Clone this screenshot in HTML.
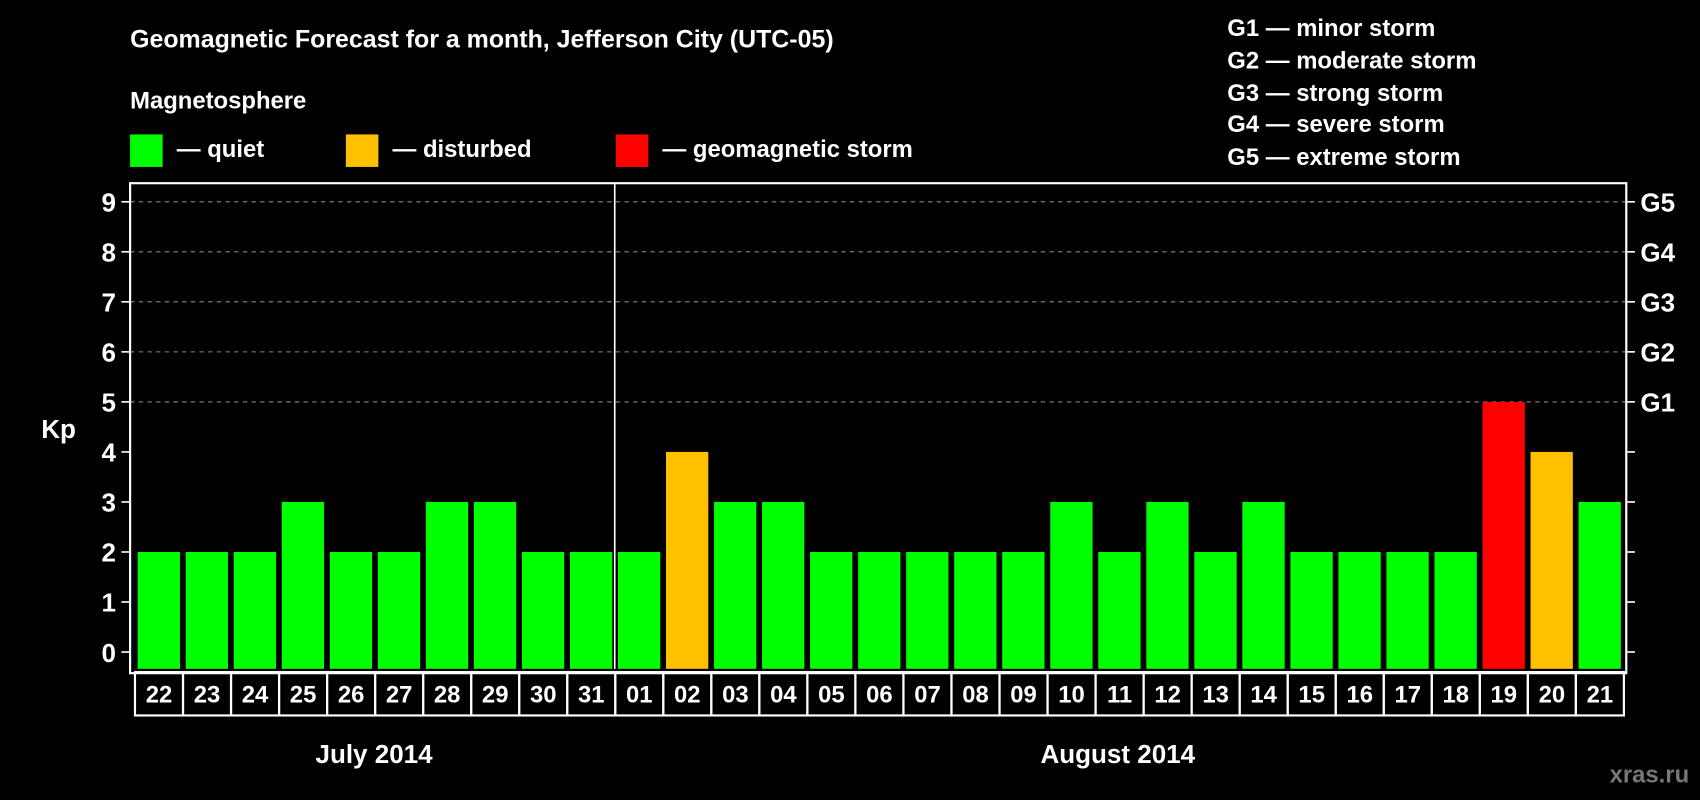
<!DOCTYPE html>
<html><head><meta charset="utf-8"><style>
html,body{margin:0;padding:0;background:#000;width:1700px;height:800px;overflow:hidden}
svg{display:block}
text{font-family:"Liberation Sans",Arial,sans-serif;font-weight:bold;fill:#fff}
</style></head><body>
<svg id="chart" width="1700" height="800" viewBox="0 0 1568 738" preserveAspectRatio="none">
<rect width="1568" height="738" fill="#000"/>
<text x="120" y="44" font-size="23">Geomagnetic Forecast for a month, Jefferson City (UTC-05)</text>
<text x="120" y="100" font-size="22">Magnetosphere</text>
<rect x="120" y="124" width="30" height="30" fill="#00ff00"/>
<text x="163" y="145" font-size="22">— quiet</text>
<rect x="319" y="124" width="30" height="30" fill="#ffc000"/>
<text x="362" y="145" font-size="22">— disturbed</text>
<rect x="568" y="124" width="30" height="30" fill="#ff0000"/>
<text x="611" y="145" font-size="22">— geomagnetic storm</text>
<g font-size="22">
<text x="1132" y="33">G1 — minor storm</text>
<text x="1132" y="63">G2 — moderate storm</text>
<text x="1132" y="93">G3 — strong storm</text>
<text x="1132" y="122">G4 — severe storm</text>
<text x="1132" y="152">G5 — extreme storm</text>
</g>
<text x="38" y="404" font-size="24">Kp</text>
<g id="plot"></g>
<text x="345" y="704" font-size="24" text-anchor="middle">July 2014</text>
<text x="1031" y="704" font-size="24" text-anchor="middle">August 2014</text>
<text x="1558" y="722" font-size="22" text-anchor="end" style="fill:#777">xras.ru</text>
</svg>
<script>
const days = ["22","23","24","25","26","27","28","29","30","31","01","02","03","04","05","06","07","08","09","10","11","12","13","14","15","16","17","18","19","20","21"];
const kpValues = [2,2,2,3,2,2,3,3,2,2,2,4,3,3,2,2,2,2,2,3,2,3,2,3,2,2,2,2,5,4,3];
const kpTicks = [0,1,2,3,4,5,6,7,8,9];
const gLabels = ["G1","G2","G3","G4","G5"];
const NS="http://www.w3.org/2000/svg";
const g=document.getElementById('plot');
const L=120,R=1500,T=169,B=617,X0=124.5,PITCH=44.3,BW=39;
const y=v=>601.5-v*46.15;
const x=i=>X0+i*PITCH;
function mk(t,a){const e=document.createElementNS(NS,t);for(const k in a)e.setAttribute(k,a[k]);g.appendChild(e);return e;}
kpTicks.forEach(v=>{
  if(v>=5){const l=mk('line',{x1:L,x2:R,y1:y(v),y2:y(v),stroke:'#888','stroke-dasharray':'4 4','stroke-width':1});
    
    }
  const t1=mk('line',{x1:L-8,x2:L,y1:y(v),y2:y(v),stroke:'#fff','stroke-width':1.5});
  
  
  const t2=mk('line',{x1:R,x2:R+8,y1:y(v),y2:y(v),stroke:'#fff','stroke-width':1.5});
  
  
  const tx=mk('text',{x:L-13,y:y(v)+9,'font-size':24,'text-anchor':'end'});tx.textContent=v;
  
  
});
gLabels.forEach((s,i)=>{const tx=mk('text',{x:R+13,y:y(5+i)+9,'font-size':24});tx.textContent=s;
  
  });
kpValues.forEach((v,i)=>{
  const c=v>=5?'#ff0000':(v>=4?'#ffc000':'#00ff00');
  const r=mk('rect',{x:x(i)+2.5,y:y(v),width:BW,height:B-y(v),fill:c});
  
  
  const cell=mk('rect',{x:x(i),y:620,width:PITCH,height:40,fill:'none',stroke:'#fff','stroke-width':2});
  
  
  const tx=mk('text',{x:x(i)+PITCH/2,y:648,'font-size':22,'text-anchor':'middle'});tx.textContent=days[i];
  
  
});
const fr=mk('rect',{x:L,y:T,width:R-L,height:B-T+4,fill:'none',stroke:'#fff','stroke-width':2});


const sep=mk('line',{x1:x(10)-0.5,x2:x(10)-0.5,y1:T,y2:B,stroke:'#fff','stroke-width':1.5});


</script>
</body></html>
